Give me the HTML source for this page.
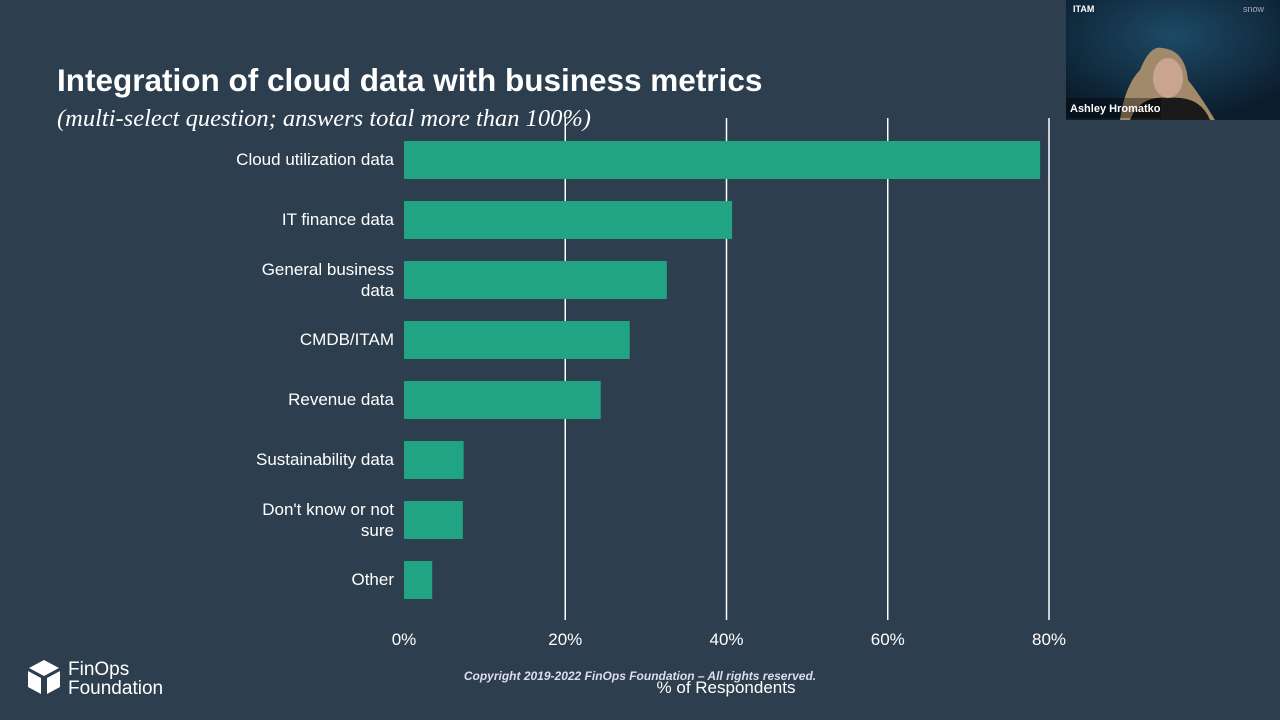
<!DOCTYPE html>
<html><head><meta charset="utf-8">
<style>
html,body{margin:0;padding:0;width:1280px;height:720px;overflow:hidden;background:#2d3e4e;font-family:"Liberation Sans",sans-serif;}
#c{position:absolute;left:0;top:0;}
</style></head>
<body>
<svg id="c" width="1280" height="720">
  <text x="57" y="91" fill="#fff" font-size="31.5" font-weight="bold">Integration of cloud data with business metrics</text>
  <text x="57" y="126" fill="#fff" font-size="24.5" font-style="italic" font-family="Liberation Serif, serif">(multi-select question; answers total more than 100%)</text>
  <g id="grid"></g>
  <g id="bars"></g>
  <g id="labels"></g>
  <g id="ticks"></g>
  <text x="726" y="693" fill="#fff" font-size="17" text-anchor="middle">% of Respondents</text>
  <text x="640" y="680" fill="#dde" font-size="12" font-style="italic" font-weight="bold" text-anchor="middle">Copyright 2019-2022 FinOps Foundation – All rights reserved.</text>
  <g>
    <polygon points="44,660 59,668 44,676 29,668" fill="#fff"/>
    <polygon points="28,671 41,678 41,694 28,687" fill="#fff"/>
    <polygon points="60,671 47,678 47,694 60,687" fill="#fff"/>
    <text x="68" y="675" fill="#fff" font-size="19">FinOps</text>
    <text x="68" y="694" fill="#fff" font-size="19">Foundation</text>
  </g>
  <g>
    <defs><radialGradient id="vg" cx="0.5" cy="0.3" r="0.7"><stop offset="0" stop-color="#1d4a66"/><stop offset="1" stop-color="#0b1c2c"/></radialGradient></defs>
    <rect x="1066" y="0" width="214" height="120" fill="url(#vg)"/>
    <path d="M1120,120 Q1125,85 1140,70 Q1150,45 1162,48 Q1185,50 1188,80 Q1200,95 1215,120 Z" fill="#a08a6a"/>
    <ellipse cx="1168" cy="78" rx="15" ry="20" fill="#c9a48e"/>
    <path d="M1130,120 Q1140,95 1168,98 Q1200,95 1210,120 Z" fill="#1a1a1a"/>
    <rect x="1066" y="98" width="95" height="20" fill="rgba(0,0,0,0.35)"/>
    <text x="1070" y="112" fill="#fff" font-size="11" font-weight="bold">Ashley Hromatko</text>
    <text x="1073" y="12" fill="#fff" font-size="9" font-weight="bold">ITAM</text>
    <text x="1243" y="12" fill="#aab" font-size="9">snow</text>
  </g>
</svg>
<script>
const categories = ["Cloud utilization data","IT finance data","General business data","CMDB/ITAM","Revenue data","Sustainability data","Don't know or not sure","Other"];
const labelLines = [["Cloud utilization data"],["IT finance data"],["General business","data"],["CMDB/ITAM"],["Revenue data"],["Sustainability data"],["Don't know or not","sure"],["Other"]];
const values = [78.9, 40.7, 32.6, 28.0, 24.4, 7.4, 7.3, 3.5];
const ticks = [0, 20, 40, 60, 80];
const tickLabels = ["0%","20%","40%","60%","80%"];
const NS = "http://www.w3.org/2000/svg";
const x = v => 404 + v * (1049 - 404) / 80;
const y = i => 160 + i * 60;
function mk(tag, attrs, parent){const e=document.createElementNS(NS,tag);for(const k in attrs)e.setAttribute(k,attrs[k]);parent.appendChild(e);return e;}
const grid=document.getElementById('grid'), bars=document.getElementById('bars'), labels=document.getElementById('labels'), tk=document.getElementById('ticks');
ticks.forEach((t,i)=>{
  if(t>0){const l=mk('line',{x1:x(t),x2:x(t),y1:118,y2:620,stroke:'#fff','stroke-width':1.5},grid);
  
  }
  const tx=mk('text',{x:x(t),y:645,fill:'#fff','font-size':17,'text-anchor':'middle'},tk);
  tx.textContent=tickLabels[i];
  
  
});
values.forEach((v,i)=>{
  const r=mk('rect',{x:x(0),y:y(i)-19,width:x(v)-x(0),height:38,fill:'#21a484'},bars);
  
  
  const ls=labelLines[i];
  ls.forEach((s,j)=>{
    const yy = ls.length===1 ? y(i)+5 : y(i)-5+j*21;
    const t=mk('text',{x:394,y:yy,fill:'#fff','font-size':17,'text-anchor':'end'},labels);
    t.textContent=s;
    
    
  });
});
</script>
</body></html>
